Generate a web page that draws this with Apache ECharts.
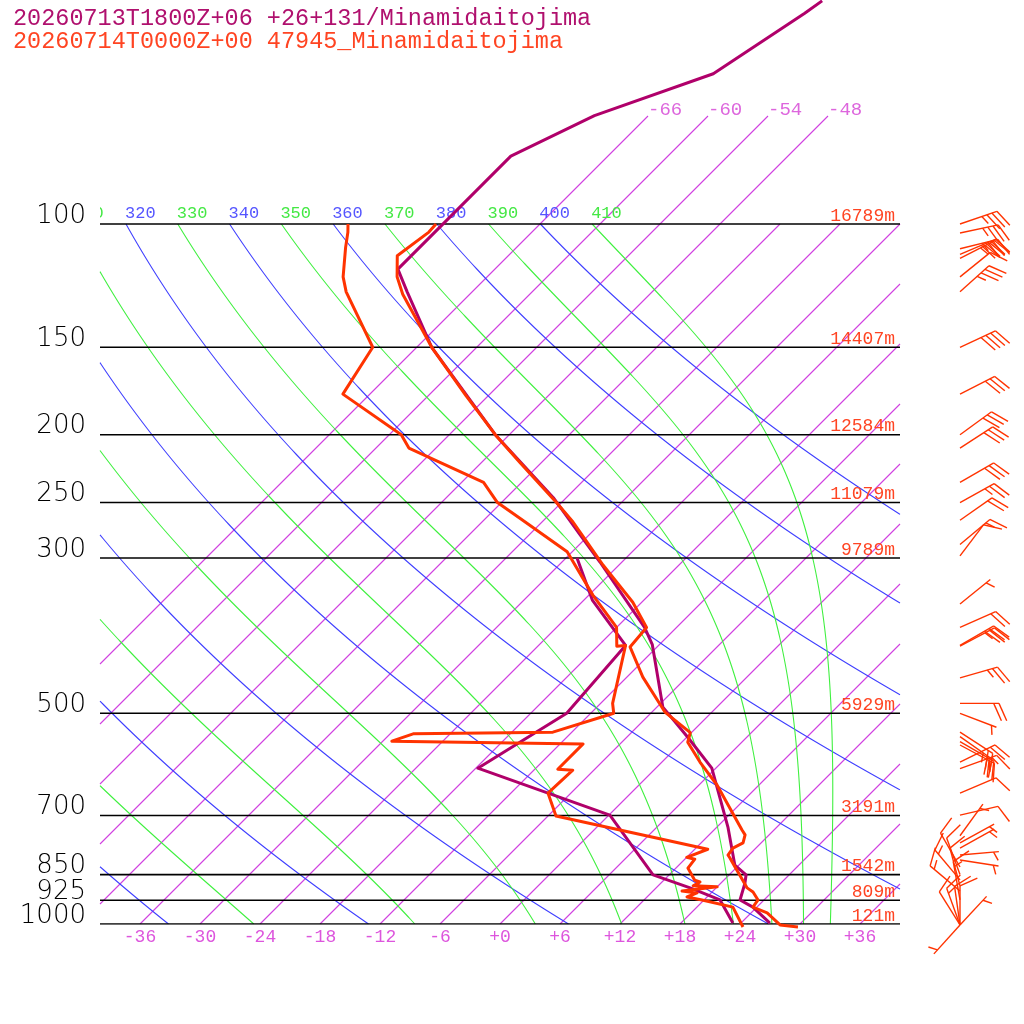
<!DOCTYPE html>
<html>
<head>
<meta charset="utf-8">
<title>Skew-T Minamidaitojima</title>
<script src="https://cdn.jsdelivr.net/npm/echarts@6/dist/echarts.min.js"></script>
<style>
html, body { margin: 0; padding: 0; background: #fff; }
#main { width: 1024px; height: 1024px; }
</style>
</head>
<body>
<div id="main"></div>
<script>
// ---- data ----
const pressureLevels = [100, 150, 200, 250, 300, 500, 700, 850, 925, 1000];
const heightLabels = ['16789m', '14407m', '12584m', '11079m', '9789m', '5929m', '3191m', '1542m', '809m', '121m'];

// model profile (purple)
const fcstPres = [48, 50, 61, 70, 80, 116, 125, 150, 200, 246, 278, 304, 377, 399, 490, 541, 599, 727, 824, 851, 874, 924, 946, 997];
const fcstTemp = [-60.1, -60.6, -63.7, -71.4, -75.7, -75.7, -72.5, -64.5, -49.4, -37.3, -30.9, -26.2, -15.2, -12.7, -5.4, 0.1, 5.6, 13.1, 17.6, 19.7, 20.4, 21.6, 23.6, 26.9];
const fcstDewPres = [300, 345, 400, 500, 599, 699, 851, 888, 924, 997];
const fcstDew = [-28.9, -23.1, -15.3, -14.4, -17.8, 0.1, 10.4, 15.4, 19.6, 23.2];

// observed profile 47945 (orange)
const obsPres = [100, 102.7, 111, 119, 126, 150, 176, 200, 219, 250, 266.5, 282.5, 307, 347, 377, 402, 444, 498, 533, 550, 587, 633, 734, 746, 766, 779, 797, 805, 829, 866, 888, 900, 924, 946, 964, 1003, 1010];
const obsTemp = [-76.4, -76.3, -77.1, -75.0, -72.7, -64.5, -56.2, -49.4, -44.2, -36.5, -32.9, -29.9, -25.6, -18.9, -15.0, -14.7, -10.4, -4.7, -0.1, 0.6, 3.8, 7.8, 14.8, 15.6, 16.2, 15.7, 15.9, 16.4, 17.8, 19.9, 21.1, 22.1, 23.4, 23.6, 25.6, 28.1, 30.1];
const obsDewPres = [100, 102.7, 108, 119, 125, 150, 175, 200, 209, 234, 250, 265, 294, 339, 377, 401, 400, 484, 500, 532, 535, 548, 553, 601, 603, 650, 701, 782, 803, 808, 832, 866, 871, 882, 885, 897, 903, 915, 924, 946, 1010];
const obsDew = [-85.2, -84.4, -83.1, -80.4, -78.6, -70.4, -68.7, -58.8, -56.7, -45.8, -42.4, -38.1, -30.5, -23.6, -18.0, -16.1, -15.3, -10.8, -9.7, -13.9, -27.7, -29.1, -9.7, -9.7, -8.1, -8.3, -5.2, 13.3, 12.0, 13.0, 13.2, 15.1, 15.8, 15.5, 18.0, 14.9, 16.6, 16.0, 17.8, 21.6, 24.6];

// observed winds: pressure, direction (deg), speed (kt)
const windPres = [100, 103, 108.5, 110.5, 112, 119, 125, 150, 175, 200, 209, 234, 250, 265, 287, 298, 349, 377, 400, 401, 445, 484, 500, 532, 540, 549, 555, 587, 600, 650, 699, 748, 766, 779, 797, 810, 829, 850, 865, 882, 897, 924, 1003, 1003, 1003, 1003, 1003, 1003];
const windDir = [71, 78, 76, 67, 63, 51, 48, 65, 63, 54, 57, 60, 61, 55, 50, 37, 51, 66, 60, 62, 74, 90, 111, 123, 125, 120, 118, 64, 70, 67, 77, 36, 61, 61, 85, 99, 330, 340, 320, 345, 310, 350, 222, 43, 0, 352, 340, 328];
const windSpd = [35, 35, 35, 40, 35, 10, 35, 40, 30, 30, 30, 30, 25, 20, 15, 10, 5, 20, 30, 25, 25, 20, 5, 20, 25, 20, 15, 20, 15, 10, 10, 5, 5, 5, 5, 5, 10, 10, 15, 10, 15, 15, 5, 5, 10, 10, 15, 10];

// diagram guide lines
const isotherms = [-66, -60, -54, -48, -42, -36, -30, -24, -18, -12, -6, 0, 6, 12, 18, 24, 30, 36];
const upperIsotherms = [-66, -60, -54, -48];
const dryThetas = [240, 260, 280, 300, 320, 340, 360, 380, 400];
const moistThetas = [250, 270, 290, 310, 330, 350, 370, 390, 410];

const PURPLE = '#b0006a';
const ORANGE = '#ff3300';
const ISO = '#d040e0';
const MONO = '"Liberation Mono", "DejaVu Sans Mono", monospace';

// 1000hPa -> 0, 100hPa -> 700 (one unit = one pixel)
function hgt(p) { return 700 * Math.log10(1000 / p); }
function skew(t, p) { return t + hgt(p) / 10; }

const KAPPA = 0.2857;
function dryLine(theta) {
    const pts = [];
    for (let h = 0; h <= 700; h += 5) {
        const p = 1000 * Math.pow(10, -h / 700);
        pts.push([theta * Math.pow(p / 1000, KAPPA) - 273.15 + h / 10, h]);
    }
    return pts;
}

function moistRate(T, p) {
    const Rd = 287.04, Cp = 1005.7, Lv = 2.501e6, eps = 0.622;
    const es = 6.112 * Math.exp(17.67 * (T - 273.15) / (T - 29.65));
    const rs = eps * es / (p - es);
    return (Rd * T + Lv * rs) / (Cp + Lv * Lv * rs * eps / (Rd * T * T));
}
function moistLine(theta) {
    let T = theta * Math.pow(0.1, KAPPA);
    const n = 280;
    const d = Math.log(10) / n;
    const pts = [];
    for (let i = 0; i <= n; i++) {
        const lnp = Math.log(100) + i * d;
        const p = Math.exp(lnp);
        pts.push([T - 273.15 + hgt(p) / 10, hgt(p)]);
        const k1 = moistRate(T, p);
        const k2 = moistRate(T + k1 * d / 2, Math.exp(lnp + d / 2));
        const k3 = moistRate(T + k2 * d / 2, Math.exp(lnp + d / 2));
        const k4 = moistRate(T + k3 * d, Math.exp(lnp + d));
        T += d * (k1 + 2 * k2 + 2 * k3 + k4) / 6;
    }
    return pts;
}

function clipSeg(a, b, box) {
    let t0 = 0, t1 = 1;
    const dx = b[0] - a[0], dy = b[1] - a[1];
    const ps = [-dx, dx, -dy, dy];
    const qs = [a[0] - box[0], box[1] - a[0], a[1] - box[2], box[3] - a[1]];
    for (let i = 0; i < 4; i++) {
        if (ps[i] === 0) {
            if (qs[i] < 0) return null;
        } else {
            const r = qs[i] / ps[i];
            if (ps[i] < 0) { if (r > t1) return null; if (r > t0) t0 = r; }
            else { if (r < t0) return null; if (r < t1) t1 = r; }
        }
    }
    return [[a[0] + t0 * dx, a[1] + t0 * dy], [a[0] + t1 * dx, a[1] + t1 * dy], t0 > 0, t1 < 1];
}
function clipLine(pts, box) {
    const out = [];
    let cur = null;
    for (let i = 1; i < pts.length; i++) {
        const s = clipSeg(pts[i - 1], pts[i], box);
        if (!s) { if (cur) { out.push(cur); cur = null; } continue; }
        if (cur && !s[2]) cur.push(s[1]);
        else { if (cur) out.push(cur); cur = [s[0], s[1]]; }
        if (s[3]) { out.push(cur); cur = null; }
    }
    if (cur) out.push(cur);
    return out;
}

const BOX = [-40, 40, 0, 700];

function guideSeries(polys, color, width, z) {
    return {
        type: 'lines', coordinateSystem: 'cartesian2d', polyline: true, silent: true, z: z,
        lineStyle: {color: color, width: width, opacity: 1},
        data: polys.map(function (c) { return {coords: c, lineStyle: {color: color, width: width, opacity: 1}}; })
    };
}
function clipAll(lists, box) {
    const out = [];
    lists.forEach(function (pts) { clipLine(pts, box).forEach(function (c) { out.push(c); }); });
    return out;
}

const isoPolys = [];
isotherms.forEach(function (t) {
    const top = upperIsotherms.indexOf(t) >= 0 ? 808 : 700;
    clipLine([[t, 0], [t + top / 10, top]], [-40, 40, 0, top]).forEach(function (c) { isoPolys.push(c); });
});

function textSeries(items, style, dx, dy, clip) {
    return {
        type: 'custom', coordinateSystem: 'cartesian2d', silent: true, clip: !!clip, z: 5,
        data: items.map(function (d) { return [d[0], d[1]]; }),
        renderItem: function (params, api) {
            const pt = api.coord([api.value(0), api.value(1)]);
            return {
                type: 'text', x: pt[0] + dx, y: pt[1] + dy,
                style: Object.assign({text: items[params.dataIndex][2]}, style)
            };
        }
    };
}

const thetaLabels = [];
dryThetas.concat(moistThetas).sort(function (a, b) { return a - b; }).forEach(function (th) {
    const t = th * Math.pow(0.1, KAPPA) - 273.15;
    thetaLabels.push([t + 70, 700, String(th), dryThetas.indexOf(th) >= 0]);
});

function barb(params, api) {
    const base = api.coord([api.value(0), api.value(1)]);
    const dir = api.value(2) * Math.PI / 180;
    const spd = api.value(3);
    const v = [Math.sin(dir), -Math.cos(dir)];
    const a = 66 * Math.PI / 180;
    const w = [v[0] * Math.cos(a) - v[1] * Math.sin(a), v[0] * Math.sin(a) + v[1] * Math.cos(a)];
    const L = 39, gap = 5.3, full = 19;
    const tip = [base[0] + L * v[0], base[1] + L * v[1]];
    const st = {stroke: ORANGE, lineWidth: 1.4};
    const kids = [{type: 'line', shape: {x1: base[0], y1: base[1], x2: tip[0], y2: tip[1]}, style: st}];
    const n10 = Math.floor(spd / 10);
    const n5 = Math.round((spd - n10 * 10) / 5);
    let k = 0;
    for (let i = 0; i < n10; i++, k++) {
        const s = [tip[0] - k * gap * v[0], tip[1] - k * gap * v[1]];
        kids.push({type: 'line', shape: {x1: s[0], y1: s[1], x2: s[0] + full * w[0], y2: s[1] + full * w[1]}, style: st});
    }
    if (n5) {
        if (k === 0) k = 1;
        const s = [tip[0] - k * gap * v[0], tip[1] - k * gap * v[1]];
        kids.push({type: 'line', shape: {x1: s[0], y1: s[1], x2: s[0] + full / 2 * w[0], y2: s[1] + full / 2 * w[1]}, style: st});
    }
    return {type: 'group', children: kids};
}

function profile(pres, temps, color) {
    return {
        type: 'line', symbol: 'none', clip: false, silent: true, z: 10,
        lineStyle: {color: color, width: 3, join: 'round'},
        data: pres.map(function (p, i) { return [skew(temps[i], p), hgt(p)]; })
    };
}

const chart = echarts.init(document.getElementById('main'));
chart.setOption({
    animation: false,
    backgroundColor: '#fff',
    title: [
        {text: '20260713T1800Z+06 +26+131/Minamidaitojima', left: 8, top: 2,
            textStyle: {color: '#b0106e', fontFamily: MONO, fontSize: 23.5, fontWeight: 'normal'}},
        {text: '20260714T0000Z+00 47945_Minamidaitojima', left: 8, top: 25,
            textStyle: {color: '#ff4422', fontFamily: MONO, fontSize: 23.5, fontWeight: 'normal'}}
    ],
    grid: {left: 100, right: 124, top: 0, bottom: 100},
    xAxis: {
        type: 'value', min: -40, max: 40, interval: 2,
        axisLine: {show: false}, axisTick: {show: false}, splitLine: {show: false},
        axisLabel: {
            color: '#dd55dd', fontFamily: MONO, fontSize: 18, margin: 13, verticalAlign: 'middle',
            formatter: function (v) {
                if (v % 6 !== 0 || Math.abs(v) > 36) return '';
                return (v >= 0 ? '+' : '') + v;
            }
        }
    },
    yAxis: {type: 'value', min: 0, max: 924, show: false},
    series: [
        guideSeries(isoPolys, ISO, 1.1, 1),
        guideSeries(clipAll(dryThetas.map(dryLine), BOX), '#4040ff', 1.1, 1),
        guideSeries(clipAll(moistThetas.map(moistLine), BOX), '#40f040', 1.1, 1),
        guideSeries(pressureLevels.map(function (p) { return [[-40, hgt(p)], [40, hgt(p)]]; }), '#000', 1.6, 2),
        textSeries(thetaLabels.filter(function (d) { return d[3]; }),
            {fill: '#5555ff', fontFamily: MONO, fontSize: 17, align: 'left', verticalAlign: 'middle'}, -1, -11, true),
        textSeries(thetaLabels.filter(function (d) { return !d[3]; }),
            {fill: '#44e844', fontFamily: MONO, fontSize: 17, align: 'left', verticalAlign: 'middle'}, -1, -11, true),
        textSeries(upperIsotherms.map(function (t) { return [t + 80.8, 808, String(t)]; }),
            {fill: '#dd66dd', fontFamily: MONO, fontSize: 19, align: 'left', verticalAlign: 'middle'}, 0, -6, false),
        textSeries(pressureLevels.map(function (p) { return [-40, hgt(p), String(p)]; }),
            {fill: '#000', fontFamily: '"DejaVu Sans", sans-serif', fontWeight: 200, fontSize: 26, align: 'right', verticalAlign: 'middle'}, -14, -8, false),
        textSeries(pressureLevels.map(function (p, i) { return [40, hgt(p), heightLabels[i]]; }),
            {fill: '#ff4422', fontFamily: MONO, fontSize: 18, align: 'right', verticalAlign: 'middle'}, -5, -8, false),
        profile(fcstPres, fcstTemp, PURPLE),
        profile(fcstDewPres, fcstDew, PURPLE),
        profile(obsPres, obsTemp, ORANGE),
        profile(obsDewPres, obsDew, ORANGE),
        {type: 'custom', coordinateSystem: 'cartesian2d', silent: true, clip: false, z: 12,
            renderItem: barb,
            data: windPres.map(function (p, i) { return [46, hgt(p), windDir[i], windSpd[i]]; })}
    ]
});
</script>
</body>
</html>
